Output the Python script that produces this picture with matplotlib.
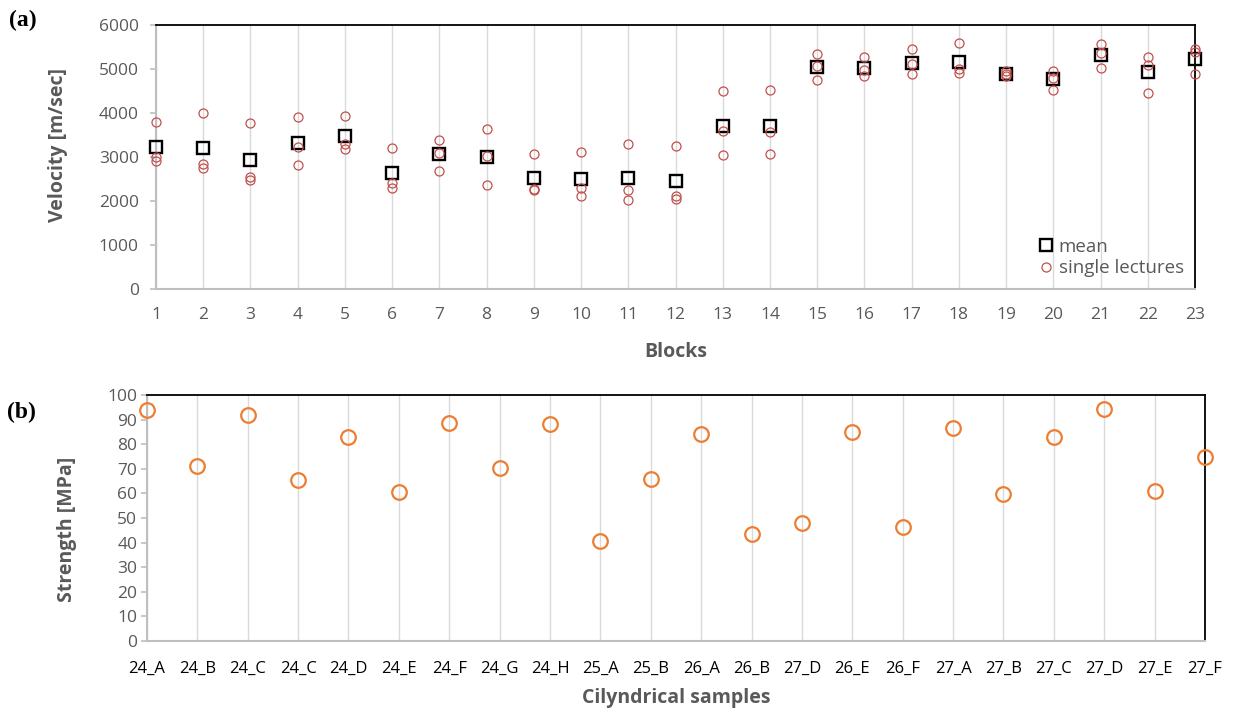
import matplotlib.pyplot as plt
import numpy as np

plt.rcParams['font.family'] = ['Open Sans', 'DejaVu Sans']

GREY_TXT = '#595959'
GREY_AX = '#bfbfbf'
GREY_GRID = '#d9d9d9'

# (a) ultrasonic velocity per block
blocks = list(range(1, 24))
mean_vel = [3225, 3195, 2920, 3315, 3470, 2630, 3055, 2995, 2525, 2495, 2525, 2450,
            3705, 3710, 5050, 5020, 5125, 5165, 4895, 4760, 5315, 4935, 5215]
lect_1 = [3795, 3985, 3770, 3915, 3930, 3210, 3390, 3635, 3055, 3110, 3300, 3245,
          4500, 4510, 5345, 5275, 5445, 5595, 4955, 4955, 5565, 5260, 5450]
lect_2 = [2995, 2830, 2540, 3225, 3285, 2405, 3085, 3010, 2275, 2290, 2250, 2100,
          3590, 3575, 5065, 4975, 5105, 4990, 4895, 4785, 5355, 5085, 5375]
lect_3 = [2905, 2755, 2465, 2820, 3170, 2295, 2675, 2355, 2250, 2105, 2010, 2040,
          3035, 3070, 4745, 4850, 4875, 4910, 4835, 4515, 5025, 4455, 4895]

# (b) strength of cylindrical samples
samples = ['24_A', '24_B', '24_C', '24_C', '24_D', '24_E', '24_F', '24_G', '24_H', '25_A', '25_B',
           '26_A', '26_B', '27_D', '26_E', '26_F', '27_A', '27_B', '27_C', '27_D', '27_E', '27_F']
strength = [93.9, 71.1, 92.0, 65.4, 83.1, 60.4, 88.8, 70.5, 88.1, 40.8, 65.7,
            84.3, 43.5, 48.1, 85.0, 46.3, 86.7, 59.9, 83.1, 94.2, 61.1, 74.8]


def style_axes(ax):
    for s in ['left', 'bottom']:
        ax.spines[s].set_color(GREY_AX)
        ax.spines[s].set_linewidth(1.5)
    for s in ['top', 'right']:
        ax.spines[s].set_color('black')
        ax.spines[s].set_linewidth(1.3)
    ax.grid(axis='x', color=GREY_GRID, linewidth=1)
    ax.set_axisbelow(True)


fig = plt.figure(figsize=(12.38, 7.14), dpi=100)

# ---- panel (a)
ax1 = fig.add_axes([0.126, 0.5959, 0.8393, 0.3691])
style_axes(ax1)
ax1.plot(blocks, mean_vel, 's', ms=9, mfc='none', mec='black', mew=1.7,
         clip_on=False, zorder=3, label='mean')
x3 = blocks * 3
ax1.plot(x3, lect_1 + lect_2 + lect_3, 'o', ms=6.5, mfc='none', mec='#c0504d', mew=0.9,
         clip_on=False, zorder=4, label='single lectures')
ax1.set_xlim(1, 23)
ax1.set_ylim(0, 6000)
ax1.set_xticks(blocks)
ax1.set_yticks(np.arange(0, 6001, 1000))
ax1.tick_params(axis='x', length=0, pad=13, labelsize=12.5, labelcolor=GREY_TXT)
ax1.tick_params(axis='y', length=4.3, width=1.2, color=GREY_AX, pad=8, labelsize=12.5,
                labelcolor=GREY_TXT)
ax1.set_xlabel('Blocks', fontsize=14, fontweight='bold', color=GREY_TXT)
ax1.set_ylabel('Velocity [m/sec]', fontsize=14, fontweight='bold', color=GREY_TXT)
ax1.xaxis.set_label_coords(0.5, -0.203)
ax1.yaxis.set_label_coords(-0.085, 0.545)
leg = ax1.legend(loc='lower right', frameon=False, fontsize=13.5, handletextpad=0.1,
                 handlelength=1.1, labelspacing=0.2, borderaxespad=0.2)
for t in leg.get_texts():
    t.set_color(GREY_TXT)

# ---- panel (b)
ax2 = fig.add_axes([0.1187, 0.1022, 0.8546, 0.3446])
style_axes(ax2)
xs = np.arange(len(samples))
ax2.plot(xs, strength, 'o', ms=10.5, mfc='none', mec='#ed7d31', mew=1.6,
         clip_on=False, zorder=3)
ax2.set_xlim(0, len(samples) - 1)
ax2.set_ylim(0, 100)
ax2.set_xticks(xs)
ax2.set_xticklabels(samples)
ax2.set_yticks(np.arange(0, 101, 10))
ax2.tick_params(axis='x', length=0, pad=14, labelsize=12, labelcolor='black')
ax2.tick_params(axis='y', length=4, width=1.2, color=GREY_AX, pad=3, labelsize=12.5,
                labelcolor=GREY_TXT)
ax2.set_xlabel('Cilyndrical samples', fontsize=14, fontweight='bold', color=GREY_TXT)
ax2.set_ylabel('Strength [MPa]', fontsize=14, fontweight='bold', color=GREY_TXT)
ax2.xaxis.set_label_coords(0.5, -0.191)
ax2.yaxis.set_label_coords(-0.066, 0.453)

fig.text(0.007, 0.972, '(a)', fontsize=17, fontweight='bold',
         family='Liberation Serif', va='center', ha='left')
fig.text(0.006, 0.423, '(b)', fontsize=17, fontweight='bold',
         family='Liberation Serif', va='center', ha='left')

plt.savefig('out.png', dpi=100)
